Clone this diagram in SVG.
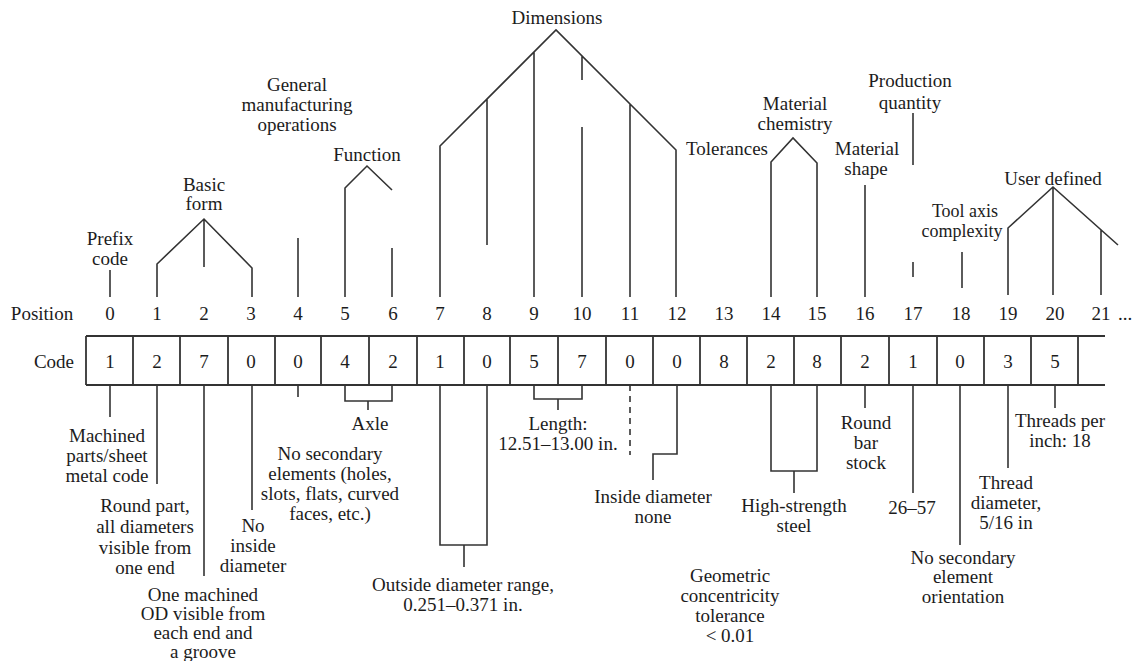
<svg xmlns="http://www.w3.org/2000/svg" width="1134" height="661" viewBox="0 0 1134 661">
  <style>
    text { font-family: "Liberation Serif", "Times New Roman", serif; font-size: 19px; fill: #1c1c1c; text-anchor: middle; dominant-baseline: central; }
    .sm text { font-size: 18px; }
    .ln { fill: none; stroke: #333; stroke-width: 1.6; }
    .dash { stroke-dasharray: 6 5; }
    .box { fill: none; stroke: #333; stroke-width: 1.8; }
  </style>
  <rect width="1134" height="661" fill="#fff"/>

  <!-- row captions -->
  <g id="row-labels">
    <text x="42" y="313">Position</text>
    <text x="54" y="361">Code</text>
  </g>

  <!-- digit positions 0..21 -->
  <g id="position-numbers">
    <text x="110" y="313">0</text>
    <text x="157" y="313">1</text>
    <text x="204" y="313">2</text>
    <text x="251" y="313">3</text>
    <text x="298" y="313">4</text>
    <text x="345" y="313">5</text>
    <text x="393" y="313">6</text>
    <text x="440" y="313">7</text>
    <text x="487" y="313">8</text>
    <text x="534" y="313">9</text>
    <text x="582" y="313">10</text>
    <text x="630" y="313">11</text>
    <text x="677" y="313">12</text>
    <text x="724" y="313">13</text>
    <text x="771" y="313">14</text>
    <text x="817" y="313">15</text>
    <text x="865" y="313">16</text>
    <text x="913" y="313">17</text>
    <text x="961" y="313">18</text>
    <text x="1008" y="313">19</text>
    <text x="1055" y="313">20</text>
    <text x="1101" y="313">21</text>
    <text x="1125" y="313">...</text>
  </g>

  <!-- code cells -->
  <g id="code-box">
    <path class="box" d="M86 336 H1105 M86 385 H1105 M86 336 V385"/>
    <path class="box" d="M133 336V385 M180 336V385 M228 336V385 M275 336V385 M321 336V385 M369 336V385 M417 336V385 M464 336V385 M510 336V385 M558 336V385 M606 336V385 M653 336V385 M700 336V385 M747 336V385 M794 336V385 M841 336V385 M889 336V385 M937 336V385 M984 336V385 M1031 336V385 M1078 336V385"/>
    <text x="110" y="361">1</text>
    <text x="157" y="361">2</text>
    <text x="204" y="361">7</text>
    <text x="251" y="361">0</text>
    <text x="298" y="361">0</text>
    <text x="345" y="361">4</text>
    <text x="393" y="361">2</text>
    <text x="440" y="361">1</text>
    <text x="487" y="361">0</text>
    <text x="534" y="361">5</text>
    <text x="582" y="361">7</text>
    <text x="630" y="361">0</text>
    <text x="677" y="361">0</text>
    <text x="724" y="361">8</text>
    <text x="771" y="361">2</text>
    <text x="817" y="361">8</text>
    <text x="865" y="361">2</text>
    <text x="913" y="361">1</text>
    <text x="960" y="361">0</text>
    <text x="1008" y="361">3</text>
    <text x="1055" y="361">5</text>
  </g>

  <!-- leader lines and brackets -->
  <g id="connectors">
    <!-- upper leaders -->
    <path class="ln" d="M110 270 V297"/>
    <path class="ln" d="M157 297 V264 L204 219 L252 268 V297 M204 219 V267"/>
    <path class="ln" d="M298 238 V297"/>
    <path class="ln" d="M345 297 V188 L367 166 L392 190 M392 248 V297"/>
    <path class="ln" d="M440 297 V146 L556 30 L676 150 V297 M487 99 V245 M534 52 V297 M582 56 V80 M582 127 V297 M630 104 V297"/>
    <path class="ln" d="M771 297 V162 L793 138 L817 163 V297"/>
    <path class="ln" d="M865 185 V297"/>
    <path class="ln" d="M913 113 V165 M913 262 V277"/>
    <path class="ln" d="M962 252 V288"/>
    <path class="ln" d="M1008 295 V228 L1053 187 L1118 245 M1053 187 V295 M1101 230 V295"/>
    <!-- lower leaders -->
    <path class="ln" d="M110 385 V417"/>
    <path class="ln" d="M157 385 V484"/>
    <path class="ln" d="M204 385 V576"/>
    <path class="ln" d="M252 385 V510"/>
    <path class="ln" d="M298 385 V397"/>
    <path class="ln" d="M345 385 V401 H392 V385 M368 401 V410"/>
    <path class="ln" d="M440 385 V545 H487 V385 M464 545 V567"/>
    <path class="ln" d="M534 385 V399 H582 V385 M558 399 V410"/>
    <path class="ln dash" d="M630 385 V455"/>
    <path class="ln" d="M677 385 V454 H653 V480"/>
    <path class="ln" d="M771 385 V471 H817 V385 M794 471 V493"/>
    <path class="ln" d="M865 385 V408"/>
    <path class="ln" d="M913 385 V493"/>
    <path class="ln" d="M960 385 V545"/>
    <path class="ln" d="M1008 385 V468"/>
    <path class="ln" d="M1055 385 V408"/>
  </g>

  <!-- upper captions -->
  <g id="prefix-code"><text x="110" y="238">Prefix</text><text x="110" y="258">code</text></g>
  <g id="basic-form"><text x="204" y="184">Basic</text><text x="204" y="203">form</text></g>
  <g id="general-operations"><text x="297" y="84">General</text><text x="297" y="104">manufacturing</text><text x="297" y="124">operations</text></g>
  <g id="function"><text x="367" y="154">Function</text></g>
  <g id="dimensions"><text x="557" y="17">Dimensions</text></g>
  <g id="tolerances"><text x="727" y="148">Tolerances</text></g>
  <g id="material-chemistry"><text x="795" y="103">Material</text><text x="795" y="123">chemistry</text></g>
  <g id="material-shape"><text x="867" y="148">Material</text><text x="866" y="168">shape</text></g>
  <g id="production-quantity"><text x="910" y="80">Production</text><text x="910" y="102">quantity</text></g>
  <g id="tool-axis" class="sm"><text x="965" y="211">Tool axis</text><text x="962" y="231">complexity</text></g>
  <g id="user-defined"><text x="1053" y="178">User defined</text></g>

  <!-- lower captions -->
  <g id="machined-parts"><text x="107" y="435">Machined</text><text x="107" y="455">parts/sheet</text><text x="107" y="475">metal code</text></g>
  <g id="round-part"><text x="145" y="505">Round part,</text><text x="145" y="526">all diameters</text><text x="145" y="547">visible from</text><text x="145" y="567">one end</text></g>
  <g id="one-machined-od"><text x="203" y="594">One machined</text><text x="203" y="613">OD visible from</text><text x="203" y="632">each end and</text><text x="203" y="651">a groove</text></g>
  <g id="no-inside-diameter"><text x="253" y="525">No</text><text x="253" y="545">inside</text><text x="253" y="565">diameter</text></g>
  <g id="no-secondary-elements"><text x="330" y="453">No secondary</text><text x="330" y="473">elements (holes,</text><text x="330" y="493">slots, flats, curved</text><text x="330" y="513">faces, etc.)</text></g>
  <g id="axle"><text x="370" y="423">Axle</text></g>
  <g id="outside-diameter"><text x="463" y="584">Outside diameter range,</text><text x="463" y="604">0.251–0.371 in.</text></g>
  <g id="length"><text x="558" y="423">Length:</text><text x="558" y="443">12.51–13.00 in.</text></g>
  <g id="inside-diameter"><text x="653" y="496">Inside diameter</text><text x="653" y="516">none</text></g>
  <g id="concentricity"><text x="730" y="575">Geometric</text><text x="730" y="595">concentricity</text><text x="730" y="615">tolerance</text><text x="730" y="635">&lt; 0.01</text></g>
  <g id="high-strength-steel"><text x="794" y="505">High-strength</text><text x="794" y="525">steel</text></g>
  <g id="round-bar-stock"><text x="866" y="422">Round</text><text x="866" y="442">bar</text><text x="866" y="462">stock</text></g>
  <g id="quantity-range"><text x="912" y="507">26–57</text></g>
  <g id="no-secondary-orientation"><text x="963" y="557">No secondary</text><text x="963" y="576">element</text><text x="963" y="596">orientation</text></g>
  <g id="thread-diameter"><text x="1006" y="482">Thread</text><text x="1006" y="502">diameter,</text><text x="1006" y="522">5/16 in</text></g>
  <g id="threads-per-inch"><text x="1060" y="420">Threads per</text><text x="1060" y="440">inch: 18</text></g>
</svg>
